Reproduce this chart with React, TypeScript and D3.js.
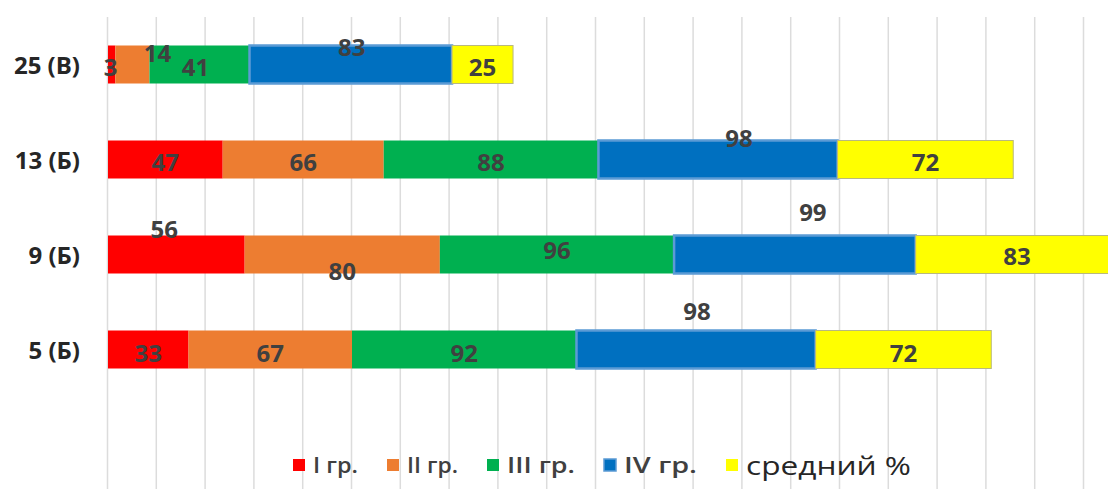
import React from "react";
import * as d3 from "d3";

// ---- data ----
const categories = ["25 (В)", "13 (Б)", "9 (Б)", "5 (Б)"];
const seriesNames = ["I гр.", "II гр.", "III гр.", "IV гр.", "средний %"];
const group1 = [3, 47, 56, 33];
const group2 = [14, 66, 80, 67];
const group3 = [41, 88, 96, 92];
const group4 = [83, 98, 99, 98];
const average = [25, 72, 83, 72];
const gridTicks = d3.range(0, 401, 20);

// ---- styling / layout (not data) ----
const colors = ["#ff0000", "#ed7d31", "#00b050", "#0070c0", "#ffff00"];
const strokes = ["none", "none", "none", "#5b9bd5", "#b8b880"];
const strokeW = [0, 0, 0, 2.5, 1];
// per-label pixel nudges [category][series] = [dx, dy]
const labelNudge: number[][][] = [
  [[-1, 2], [25, -12], [-4, 2], [1, -18], [0, 2]],
  [[0, 2], [0, 2], [0, 2], [21, -22], [0, 2]],
  [[-12, -26], [0, 16], [0, -5], [18, -43], [0, 1]],
  [[0, 3], [0, 3], [0, 3], [1, -39], [0, 3]],
];
const legendTextWidths = [45, 51, 68, 73, 165];

const W = 1108;
const H = 489;
const FONT = "'Open Sans', 'Noto Sans', sans-serif";

export default function App() {
  const series = [group1, group2, group3, group4, average];
  const rows = categories.map((c, i) => {
    const r: any = { cat: c };
    seriesNames.forEach((s, j) => (r[s] = series[j][i]));
    return r;
  });
  const stack = d3.stack<any>().keys(seriesNames)(rows);

  const x = d3.scaleLinear().domain([0, 400]).range([108, 108 + 976]);
  const y = d3
    .scaleBand<string>()
    .domain(categories)
    .range([17, 397])
    .paddingInner(0.6)
    .paddingOuter(0.3);
  const bw = y.bandwidth();

  // legend layout
  let lx = 293;
  const legendItems = seriesNames.map((s, i) => {
    const sq = lx;
    const tx = lx + 20;
    lx = tx + legendTextWidths[i] + 29;
    return { s, i, sq, tx };
  });

  return (
    <svg
      width={W}
      height={H}
      style={{ position: "absolute", left: 0, top: 0, background: "#fff" }}
      fontFamily={FONT}
    >
      <rect x={0} y={0} width={W} height={H} fill="#fff" />
      {/* gridlines */}
      {gridTicks.map((t) => (
        <line
          key={t}
          x1={x(t) - 0.5}
          x2={x(t) - 0.5}
          y1={17}
          y2={H}
          stroke="#dcdcdc"
          strokeWidth={1.5}
        />
      ))}
      {/* bars */}
      {stack.map((layer, j) => (
        <g key={layer.key}>
          {layer.map((d, i) => {
            const cat = categories[i];
            const x0 = x(d[0]);
            const x1 = x(d[1]);
            return (
              <rect
                key={cat}
                x={x0}
                y={y(cat)!}
                width={x1 - x0}
                height={bw}
                fill={colors[j]}
                stroke={strokes[j]}
                strokeWidth={strokeW[j]}
              />
            );
          })}
        </g>
      ))}
      {/* data labels */}
      {stack.map((layer, j) => (
        <g key={"l" + layer.key}>
          {layer.map((d, i) => {
            const cat = categories[i];
            const cx = (x(d[0]) + x(d[1])) / 2 + labelNudge[i][j][0];
            const cy = y(cat)! + bw / 2 + labelNudge[i][j][1];
            return (
              <text
                key={cat}
                x={cx}
                y={cy}
                textAnchor="middle"
                dominantBaseline="central"
                fontSize={24}
                fontWeight={700}
                fill="#404040"
              >
                {series[j][i]}
              </text>
            );
          })}
        </g>
      ))}
      {/* category axis labels */}
      {categories.map((c) => (
        <text
          key={c}
          x={80}
          y={y(c)! + bw / 2}
          textAnchor="end"
          dominantBaseline="central"
          fontSize={24}
          fontWeight={700}
          fill="#262626"
        >
          {c}
        </text>
      ))}
      {/* legend */}
      {legendItems.map(({ s, i, sq, tx }) => (
        <g key={s}>
          <rect
            x={sq}
            y={459}
            width={12}
            height={12}
            fill={colors[i]}
            stroke={i === 3 ? "#5b9bd5" : "none"}
            strokeWidth={i === 3 ? 1.5 : 0}
          />
          <text
            x={tx}
            y={465}
            dominantBaseline="central"
            fontSize={i === 4 ? 25 : 21}
            fontWeight={i === 4 ? 400 : 600}
            fill={i === 4 ? "#262626" : "#404040"}
            textLength={legendTextWidths[i]}
            lengthAdjust="spacingAndGlyphs"
          >
            {s}
          </text>
        </g>
      ))}
    </svg>
  );
}
